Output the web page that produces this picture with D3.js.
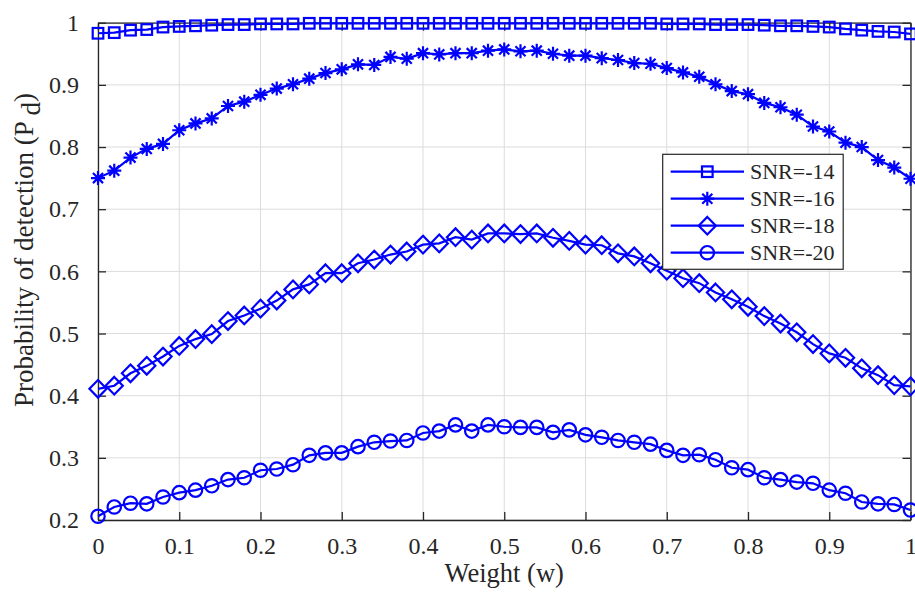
<!DOCTYPE html>
<html>
<head>
<meta charset="utf-8">
<script src="https://cdn.jsdelivr.net/npm/d3@7"></script>
<style>
  html, body { margin: 0; padding: 0; background: #fff; }
  svg { display: block; }
  text { font-family: "Liberation Serif", "Times New Roman", serif; fill: #262626; }
</style>
</head>
<body>
<svg id="chart" width="915" height="592"></svg>
<script>
// Weight values (w) from 0 to 1 in steps of 0.02
const weights = [0,0.02,0.04,0.06,0.08,0.1,0.12,0.14,0.16,0.18,0.2,0.22,0.24,0.26,0.28,0.3,0.32,0.34,0.36,0.38,0.4,0.42,0.44,0.46,0.48,0.5,0.52,0.54,0.56,0.58,0.6,0.62,0.64,0.66,0.68,0.7,0.72,0.74,0.76,0.78,0.8,0.82,0.84,0.86,0.88,0.9,0.92,0.94,0.96,0.98,1];

// Probability of detection for each SNR level
const pdSnr14 = [0.983,0.984,0.988,0.989,0.993,0.994,0.995,0.996,0.997,0.997,0.998,0.998,0.998,
  0.999,0.999,0.999,0.999,0.999,0.999,0.999,0.999,0.999,0.999,0.999,0.999,0.999,0.999,0.999,0.999,0.999,0.999,0.999,0.999,0.999,0.999,
  0.998,0.998,0.998,0.997,0.997,0.997,
  0.996,0.995,0.995,0.994,0.993,0.990,0.988,0.986,0.985,0.982];
const pdSnr16 = [0.750,0.762,0.783,0.797,0.805,0.827,0.838,0.846,0.866,0.873,0.884,0.894,0.901,0.910,0.919,0.925,0.933,0.932,0.945,0.942,0.951,0.949,0.951,0.951,0.955,0.957,0.954,0.955,0.950,0.947,0.947,0.943,0.940,0.935,0.934,0.927,0.920,0.913,0.901,0.890,0.885,0.871,0.864,0.852,0.833,0.825,0.807,0.800,0.779,0.767,0.749];
const pdSnr18 = [0.411,0.416,0.436,0.448,0.463,0.480,0.491,0.499,0.520,0.529,0.540,0.553,0.571,0.579,0.597,0.597,0.613,0.619,0.627,0.632,0.643,0.645,0.655,0.651,0.661,0.661,0.660,0.661,0.654,0.649,0.643,0.642,0.629,0.624,0.613,0.601,0.589,0.581,0.566,0.555,0.543,0.528,0.516,0.502,0.483,0.468,0.461,0.444,0.433,0.417,0.415];
const pdSnr20 = [0.206,0.221,0.227,0.226,0.237,0.244,0.248,0.255,0.265,0.268,0.280,0.282,0.289,0.304,0.308,0.308,0.318,0.325,0.327,0.328,0.340,0.343,0.353,0.343,0.353,0.350,0.349,0.349,0.341,0.345,0.337,0.333,0.328,0.325,0.322,0.312,0.304,0.305,0.297,0.284,0.281,0.268,0.265,0.261,0.259,0.248,0.243,0.229,0.226,0.225,0.216];

const seriesNames = ["SNR=-14", "SNR=-16", "SNR=-18", "SNR=-20"];
const seriesValues = [pdSnr14, pdSnr16, pdSnr18, pdSnr20];
const markerKinds = ["square", "star", "diamond", "circle"];

const xTicks = [0,0.1,0.2,0.3,0.4,0.5,0.6,0.7,0.8,0.9,1];
const yTicks = [0.2,0.3,0.4,0.5,0.6,0.7,0.8,0.9,1];

const xLabel = "Weight (w)";
const yLabelMain = "Probability of detection (P ";
const yLabelSub = "d";
const yLabelEnd = ")";

const blue = "#0000ff";
const ink = "#262626";

const svg = d3.select("#chart");
const plot = { left: 98, right: 910.5, top: 22.7, bottom: 520 };

const x = d3.scaleLinear().domain([0, 1]).range([plot.left, plot.right]);
const y = d3.scaleLinear().domain([0.2, 1]).range([plot.bottom, plot.top]);

// Grid lines
const grid = svg.append("g");
grid.selectAll("line.gx").data(xTicks).join("line")
  .attr("x1", d => x(d)).attr("x2", d => x(d))
  .attr("y1", plot.top).attr("y2", plot.bottom)
  .attr("stroke", "#dcdcdc").attr("stroke-width", 1);
grid.selectAll("line.gy").data(yTicks).join("line")
  .attr("y1", d => y(d)).attr("y2", d => y(d))
  .attr("x1", plot.left).attr("x2", plot.right)
  .attr("stroke", "#dcdcdc").attr("stroke-width", 1);

// Axes with inward ticks on all four sides
const tickLen = 8;
const fmt = d => d3.format("~g")(d);
const axisBottom = d3.axisBottom(x).tickValues(xTicks).tickFormat(fmt).tickSizeInner(-tickLen).tickSizeOuter(0).tickPadding(17);
const axisTop = d3.axisTop(x).tickValues(xTicks).tickFormat("").tickSizeInner(-tickLen).tickSizeOuter(0);
const axisLeft = d3.axisLeft(y).tickValues(yTicks).tickFormat(fmt).tickSizeInner(-tickLen).tickSizeOuter(0).tickPadding(19);
const axisRight = d3.axisRight(y).tickValues(yTicks).tickFormat("").tickSizeInner(-tickLen).tickSizeOuter(0);

function styleAxis(g) {
  g.attr("font-family", null).attr("font-size", null);
  g.select(".domain").attr("stroke", ink).attr("stroke-width", 1.3);
  g.selectAll(".tick line").attr("stroke", ink).attr("stroke-width", 1.3);
  g.selectAll(".tick text").attr("fill", ink)
    .style("font-family", '"Liberation Serif", "Times New Roman", serif')
    .style("font-size", "24px");
}

svg.append("g").attr("transform", `translate(0,${plot.bottom})`).call(axisBottom).call(styleAxis);
svg.append("g").attr("transform", `translate(0,${plot.top})`).call(axisTop).call(styleAxis);
svg.append("g").attr("transform", `translate(${plot.left},0)`).call(axisLeft).call(styleAxis);
svg.append("g").attr("transform", `translate(${plot.right},0)`).call(axisRight).call(styleAxis);

// Marker shapes
function drawMarker(g, kind) {
  const common = sel => sel.attr("fill", "none").attr("stroke", blue).attr("stroke-width", 2.2);
  if (kind === "square") {
    g.append("rect").attr("x", -5.3).attr("y", -5.3).attr("width", 10.6).attr("height", 10.6).call(common);
  } else if (kind === "circle") {
    g.append("circle").attr("r", 6.7).call(common);
  } else if (kind === "diamond") {
    g.append("path").attr("d", "M0,-8.8L8.6,0L0,8.8L-8.6,0Z").call(common);
  } else if (kind === "star") {
    const r = 7, d = r * 0.72;
    g.append("path").attr("d", `M0,${-r}V${r}M${-r},0H${r}M${-d},${-d}L${d},${d}M${-d},${d}L${d},${-d}`).call(common);
  }
}

// Series lines and markers
const line = d3.line().x(d => x(d[0])).y(d => y(d[1]));
seriesValues.forEach((vals, i) => {
  const pts = weights.map((w, j) => [w, vals[j]]);
  const g = svg.append("g");
  g.append("path").datum(pts).attr("d", line)
    .attr("fill", "none").attr("stroke", blue).attr("stroke-width", 2.2);
  g.selectAll("g.m").data(pts).join("g")
    .attr("transform", d => `translate(${x(d[0])},${y(d[1])})`)
    .each(function () { drawMarker(d3.select(this), markerKinds[i]); });
});

// Axis labels
svg.append("text").attr("x", (plot.left + plot.right) / 2).attr("y", 582)
  .attr("text-anchor", "middle").style("font-size", "26.5px").text(xLabel);

const yl = svg.append("text")
  .attr("transform", `translate(33,250) rotate(-90)`)
  .attr("text-anchor", "middle").style("font-size", "27px");
yl.append("tspan").text(yLabelMain);
yl.append("tspan").attr("dy", 7).text(yLabelSub);
yl.append("tspan").attr("dy", -7).text(yLabelEnd);

// Legend
const legend = svg.append("g").attr("transform", "translate(662.7,154.3)");
legend.append("rect").attr("width", 180.5).attr("height", 115)
  .attr("fill", "#fff").attr("stroke", ink).attr("stroke-width", 1.2);
seriesNames.forEach((name, i) => {
  const cy = 17.4 + i * 27;
  const row = legend.append("g").attr("transform", `translate(0,${cy})`);
  row.append("line").attr("x1", 8).attr("x2", 81.3).attr("y1", 0).attr("y2", 0)
    .attr("stroke", blue).attr("stroke-width", 2.2);
  const m = row.append("g").attr("transform", "translate(44.6,0)");
  drawMarker(m, markerKinds[i]);
  row.append("text").attr("x", 87.3).attr("y", 7.5).style("font-size", "22px").text(name);
});
</script>
</body>
</html>
